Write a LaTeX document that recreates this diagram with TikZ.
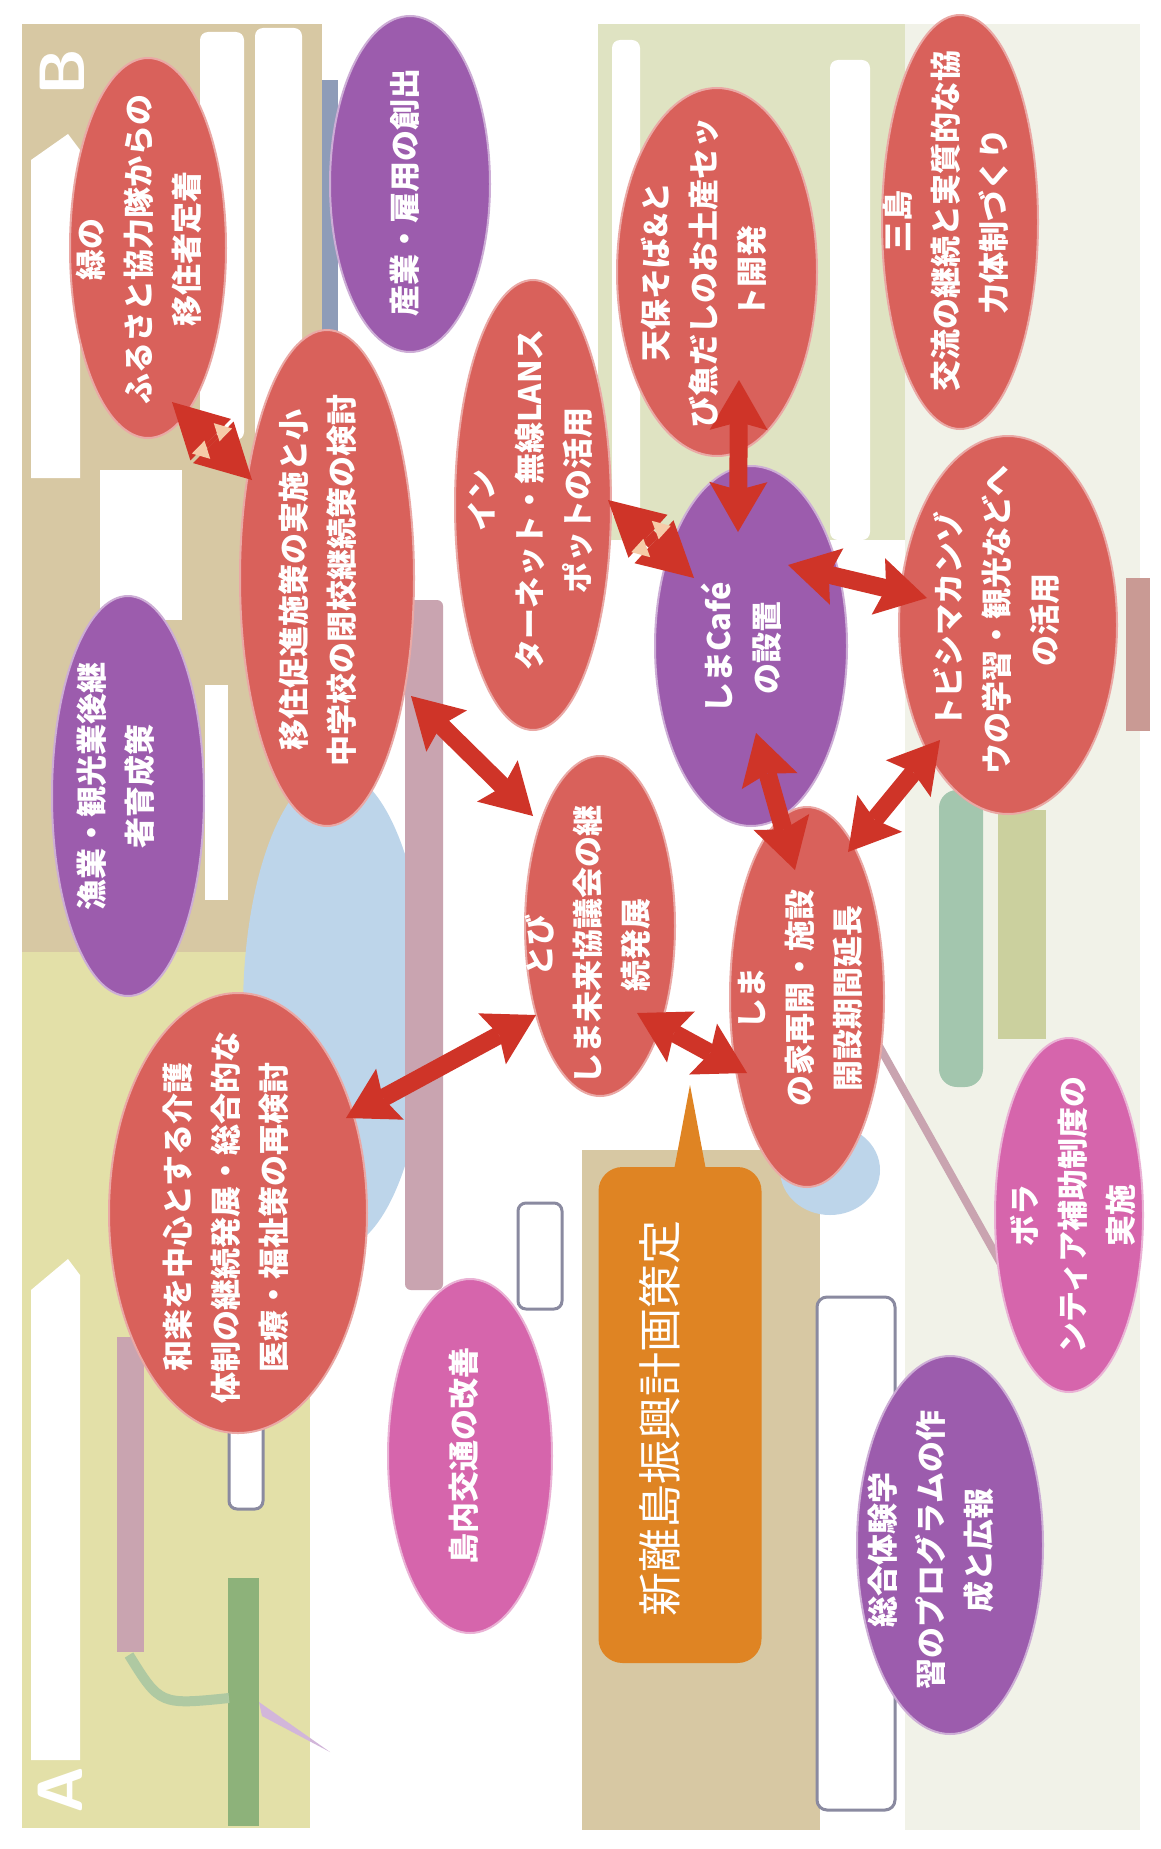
\documentclass[tikz,border=0pt]{standalone}
\usepackage{fontspec}
\newfontfamily\jp{Noto Sans CJK JP}
\usetikzlibrary{shapes.geometric,arrows.meta,calc}
\definecolor{tanc}{HTML}{D7C8A3}
\definecolor{ygc}{HTML}{E3E0A8}
\definecolor{pgc}{HTML}{DFE3C2}
\definecolor{rightc}{HTML}{F1F2E8}
\definecolor{bluec}{HTML}{BDD5EA}
\definecolor{mauvec}{HTML}{C9A4B0}
\definecolor{bgray}{HTML}{8E9CB8}
\definecolor{tealc}{HTML}{A3C6AE}
\definecolor{olivec}{HTML}{CBD09E}
\definecolor{greenbar}{HTML}{8DB27A}
\definecolor{pinkbar}{HTML}{C99A94}
\definecolor{grayc}{HTML}{8A8AA0}
\definecolor{redE}{HTML}{D9615B}
\definecolor{purE}{HTML}{9C5CAD}
\definecolor{pinkE}{HTML}{D665AC}
\definecolor{orgE}{HTML}{DF8423}
\definecolor{arrowc}{HTML}{CF3428}
\definecolor{bevelc}{HTML}{F6CBA8}
\newcommand\bevelmarks[2]{%
  \fill[bevelc] ($(#1)!0.40!(#2)!14pt!90:(#2)$) -- ($(#1)!0.55!(#2)!5pt!90:(#2)$) -- ($(#1)!0.55!(#2)!23pt!90:(#2)$) -- cycle;
  \fill[bevelc] ($(#1)!0.60!(#2)!14pt!-90:(#2)$) -- ($(#1)!0.45!(#2)!5pt!-90:(#2)$) -- ($(#1)!0.45!(#2)!23pt!-90:(#2)$) -- cycle;}
\tikzset{
  ellbase/.style={ellipse, rotate=90, inner sep=0pt, line width=2pt},
  ellR/.style={ellbase, fill=redE, draw=redE!55!white},
  ellP/.style={ellbase, fill=purE, draw=purE!50!white},
  ellK/.style={ellbase, fill=pinkE, draw=pinkE!50!white},
  orgbox/.style={rectangle, rounded corners=24pt, rotate=90, inner sep=0pt, fill=orgE},
  lbl/.style={rotate=90, text=white, align=center, inner sep=0pt,
    font=\jp\bfseries\fontsize{31}{48}\selectfont},
  biglbl/.style={rotate=90, text=white, inner sep=0pt,
    font=\jp\fontsize{44}{52}\selectfont},
  letter/.style={rotate=90, text=white, inner sep=0pt, font=\sffamily\bfseries\fontsize{64}{70}\selectfont},
  bigarrow/.style={draw=arrowc, line width=18pt,
    arrows={Stealth[length=50pt,width=58pt,inset=8pt,line width=0pt]-Stealth[length=50pt,width=58pt,inset=8pt,line width=0pt]}},
  bevelarrow/.style={draw=arrowc, line width=16pt,
    arrows={Triangle[length=54pt,width=58pt,line width=0pt]-Triangle[length=54pt,width=58pt,line width=0pt]}},
}
\begin{document}
\begin{tikzpicture}[x=1pt,y=-1pt]
\useasboundingbox (0,0) rectangle (1160,1849);
\fill[white] (0,0) rectangle (1160,1849);
% ---------------- background (faded underlying chart) ----------------
\fill[tanc] (22,24) rectangle (322,952);
\fill[ygc] (22,952) rectangle (310,1828);
\fill[pgc] (598,24) rectangle (905,540);
\fill[rightc] (905,24) rectangle (1140,1830);
\fill[tanc] (582,1150) rectangle (820,1830);
\fill[white, rounded corners=8pt] (200,32) rectangle (244,440);
\fill[white, rounded corners=8pt] (255,28) rectangle (302,440);
\fill[white] (100,470) rectangle (182,620);
\fill[white] (205,685) rectangle (228,900);
\fill[white] (31,478) -- (31,160) -- (68,134) -- (80,150) -- (80,478) -- cycle;
\fill[white] (31,1760) -- (31,1290) -- (68,1259) -- (80,1275) -- (80,1760) -- cycle;
\fill[white, rounded corners=8pt] (612,40) rectangle (640,520);
\fill[white, rounded corners=8pt] (830,60) rectangle (870,540);
\fill[bgray] (322,80) rectangle (338,360);
\fill[bluec] (335,1010) ellipse [x radius=92pt, y radius=240pt];
\fill[mauvec, rounded corners=6pt] (405,600) rectangle (443,1290);
\fill[mauvec] (117,1337) rectangle (144,1652);
\fill[greenbar] (228,1578) rectangle (259,1826);
\draw[greenbar!70!white, line width=10pt] (129,1655) .. controls (160,1705) .. (229,1698);
\fill[purE!45!white] (259,1702) -- (330,1752) -- (262,1716) -- cycle;
\fill[tealc, rounded corners=18pt] (939,790) rectangle (983,1087);
\fill[olivec] (998,810) rectangle (1046,1039);
\draw[mauvec, line width=8pt] (870,1030) -- (1010,1280);
\fill[pinkbar] (1126,578) rectangle (1150,731);
\fill[bluec] (830,1170) ellipse [x radius=50pt, y radius=45pt];
\draw[grayc, line width=3pt, fill=white, rounded corners=10pt] (817,1297) rectangle (895,1810);
\draw[grayc, line width=3pt, fill=white, rounded corners=8pt] (518,1203) rectangle (562,1309);
\draw[grayc, line width=3pt, fill=white, rounded corners=8pt] (229,1415) rectangle (263,1509);
\node[letter] (letB) at (62,72) {B};
\node[letter] (letA) at (60,1790) {A};
% ---------------- ellipses ----------------
\node[ellR, minimum width=380pt, minimum height=156pt] (midori) at (148,248) {};
\node[ellP, minimum width=336pt, minimum height=160pt] (sangyo) at (410,184) {};
\node[ellR, minimum width=496pt, minimum height=174pt] (ijuu) at (327,578) {};
\node[ellR, minimum width=450pt, minimum height=156pt] (inet) at (533,505) {};
\node[ellR, minimum width=368pt, minimum height=200pt] (tenpo) at (717,272) {};
\node[ellR, minimum width=414pt, minimum height=156pt] (mishima) at (960,222) {};
\node[ellP, minimum width=360pt, minimum height=192pt] (cafe) at (751,646) {};
\node[ellR, minimum width=378pt, minimum height=218pt] (kanzou) at (1008,625) {};
\node[ellP, minimum width=400pt, minimum height=152pt] (gyogyo) at (128,796) {};
\node[ellR, minimum width=340pt, minimum height=150pt] (tobi) at (600,926) {};
\node[ellR, minimum width=380pt, minimum height=154pt] (ie) at (807,997) {};
\node[ellR, minimum width=440pt, minimum height=258pt] (waraku) at (238,1213) {};
\node[ellK, minimum width=354pt, minimum height=164pt] (tounai) at (470,1456) {};
\node[ellK, minimum width=354pt, minimum height=148pt] (volun) at (1069,1215) {};
\node[ellP, minimum width=378pt, minimum height=186pt] (sougou) at (950,1545) {};
% ---------------- plan box ----------------
\node[orgbox, minimum width=496pt, minimum height=163pt] (plan) at (680,1415) {};
\coordinate (tailtip) at (690,1085);
\fill[orgE] ($(plan.east)+(-8,14)$) -- (tailtip) -- ($(plan.east)+(28,14)$) -- cycle;
% ---------------- arrows ----------------
\coordinate (aP) at ($(midori)+(24,154)$);
\coordinate (aQ) at ($(ijuu)+(-75,-98)$);
\draw[bevelarrow] (aP) -- (aQ);
\bevelmarks{aP}{aQ}
\coordinate (bP) at ($(inet)+(75,-5)$);
\coordinate (bQ) at ($(cafe)+(-57,-68)$);
\draw[bevelarrow] (bP) -- (bQ);
\bevelmarks{bP}{bQ}
\draw[bigarrow] ($(tenpo)+(22,108)$) -- ($(cafe)+(-13,-114)$);
\draw[bigarrow] ($(cafe)+(37,-81)$) -- ($(kanzou)+(-81,-27)$);
\draw[bigarrow] ($(ijuu)+(84,118)$) -- ($(tobi)+(-67,-110)$);
\draw[bigarrow] ($(cafe)+(5,87)$) -- ($(ie)+(-12,-127)$);
\draw[bigarrow] ($(ie)+(41,-145)$) -- ($(kanzou)+(-68,115)$);
\draw[bigarrow] ($(tobi)+(37,87)$) -- ($(ie)+(-60,76)$);
\draw[bigarrow] ($(tobi)+(-64,89)$) -- ($(waraku)+(108,-95)$);
% ---------------- texts ----------------
\node[lbl] (midoriT) at (139,249) {緑の\\ふるさと協力隊からの\\移住者定着};
\node[lbl] (sangyoT) at (405,192) {産業・雇用の創出};
\node[lbl] (ijuuT) at (318,580) {移住促進施策の実施と小\\中学校の閉校継続策の検討};
\node[lbl] (inetT) at (530,500) {イン\\ターネット・無線LANス\\ポットの活用};
\node[lbl] (tenpoT) at (704,272) {天保そば\&と\\び魚だしのお土産セッ\\ト開発};
\node[lbl] (mishimaT) at (946,221) {三島\\交流の継続と実質的な協\\力体制づくり};
\node[lbl] (cafeT) at (741,648) {しまCafé\\の設置};
\node[lbl] (kanzouT) at (996,620) {トビシマカンゾ\\ウの学習・観光などへ\\の活用};
\node[lbl] (gyogyoT) at (116,786) {漁業・観光業後継\\者育成策};
\node[lbl] (tobiT) at (588,945) {とび\\しま未来協議会の継\\続発展};
\node[lbl] (ieT) at (800,998) {しま\\の家再開・施設\\開設期間延長};
\node[lbl] (warakuT) at (226,1217) {和楽を中心とする介護\\体制の継続発展・総合的な\\医療・福祉策の再検討};
\node[lbl] (tounaiT) at (464,1456) {島内交通の改善};
\node[lbl] (volunT) at (1073,1215) {ボラ\\ンティア補助制度の\\実施};
\node[lbl] (sougouT) at (931,1550) {総合体験学\\習のプログラムの作\\成と広報};
\node[biglbl] (planT) at (660,1418) {新離島振興計画策定};
\end{tikzpicture}
\end{document}
